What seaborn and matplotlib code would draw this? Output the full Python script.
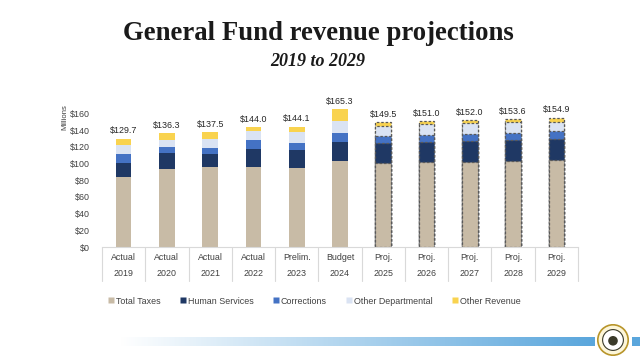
import numpy as np
import pandas as pd
import seaborn as sns
from matplotlib import pyplot as plt
from matplotlib import lines, patches
from matplotlib.colors import LinearSegmentedColormap

# values, $ millions
periods = ["Actual\n2019", "Actual\n2020", "Actual\n2021", "Actual\n2022", "Prelim.\n2023",
           "Budget\n2024", "Proj.\n2025", "Proj.\n2026", "Proj.\n2027", "Proj.\n2028", "Proj.\n2029"]
total_taxes = [84.4, 94.0, 95.6, 96.4, 94.8, 103.6, 101.2, 102.0, 102.4, 103.6, 104.4]
human_services = [16.0, 18.4, 15.6, 20.8, 21.2, 22.8, 23.6, 24.0, 24.8, 24.8, 25.2]
corrections = [10.6, 7.6, 8.0, 11.2, 9.2, 10.4, 8.4, 8.8, 8.4, 8.8, 9.2]
other_departmental = [11.0, 8.4, 10.8, 11.2, 12.8, 14.8, 12.0, 12.8, 12.8, 12.8, 11.2]
totals = [129.7, 136.3, 137.5, 144.0, 144.1, 165.3, 149.5, 151.0, 152.0, 153.6, 154.9]
n_actual = 6  # first six bars are actual/prelim/budget, rest projected

series_names = ["Total Taxes", "Human Services", "Corrections", "Other Departmental", "Other Revenue"]
series_colors = ["#c8bba6", "#1f3864", "#4472c4", "#dae3f3", "#f9d34f"]

df = pd.DataFrame({
    "period": periods,
    "Total Taxes": total_taxes,
    "Human Services": human_services,
    "Corrections": corrections,
    "Other Departmental": other_departmental,
})
df["Other Revenue"] = np.array(totals) - df[series_names[:4]].sum(axis=1)
cum = df[series_names].cumsum(axis=1)

sns.set_theme(style="white")
plt.rcParams["font.family"] = ["Liberation Sans", "DejaVu Sans"]
fs = 6.4

fig = plt.figure(figsize=(6.4, 3.6), dpi=100)
ax = fig.add_axes([102 / 640, 1 - 247 / 360, 476 / 640, 146 / 360])

# draw cumulative layers from the top down so each one covers the next
for name, color in reversed(list(zip(series_names, series_colors))):
    sns.barplot(x=df["period"], y=cum[name], color=color, width=0.36,
                saturation=1, ax=ax, zorder=2)

n = len(periods)
for i, p in enumerate(ax.patches):
    if i % n >= n_actual:
        p.set_edgecolor("#595959")
        p.set_linestyle((0, (2, 1.5)))
        p.set_linewidth(0.9)
    else:
        p.set_edgecolor("none")

for i, t in enumerate(totals):
    ax.text(i, t + 4, f"${t:.1f}", ha="center", va="bottom", fontsize=fs, color="#262626")

ax.set_ylim(0, 175)
ax.set_xlim(-0.5, n - 0.5)
ax.set_yticks(range(0, 161, 20))
ax.set_yticklabels([f"${v}" for v in range(0, 161, 20)], fontsize=fs, color="#404040")
ax.tick_params(axis="y", length=0, pad=8.5)
ax.tick_params(axis="x", length=0, pad=4, labelsize=fs, labelcolor="#404040")
for lab in ax.get_xticklabels():
    lab.set_linespacing(2.1)
ax.set_xlabel("")
ax.set_ylabel("Millions", fontsize=5.6, color="#404040")
ax.yaxis.set_label_coords(-0.07, 0.89)
for s in ["top", "right", "left"]:
    ax.spines[s].set_visible(False)
ax.spines["bottom"].set_color("#d9d9d9")
ax.spines["bottom"].set_linewidth(0.8)

# category separators under the axis
for k in range(n + 1):
    ax.add_line(lines.Line2D([k - 0.5, k - 0.5], [0, -0.23], transform=ax.get_xaxis_transform(),
                             color="#d9d9d9", lw=0.8, clip_on=False))

handles = [lines.Line2D([0], [0], marker="s", color="none", markerfacecolor=c, markeredgecolor="none",
                        markersize=3.8, label=nm) for nm, c in zip(series_names, series_colors)]
fig.legend(handles=handles, loc="center", bbox_to_anchor=(0.491, 1 - 301 / 360), ncol=5, frameon=False,
           fontsize=fs, handletextpad=0.15, columnspacing=2.1, handlelength=0.8, labelcolor="#404040")

fig.text(0.497, 1 - 33 / 360, "General Fund revenue projections", ha="center", va="center",
         fontsize=19.3, fontweight="bold", family=["Liberation Serif", "DejaVu Serif"], color="#1a1a1a")
fig.text(0.497, 1 - 62 / 360, "2019 to 2029", ha="center", va="center", fontsize=13,
         fontweight="bold", style="italic", family=["Liberation Serif", "DejaVu Serif"], color="#1a1a1a")

# blue gradient footer bar with a seal at the right
bar_ax = fig.add_axes([120 / 640, 1 - 346 / 360, 475 / 640, 9 / 360])
grad = np.linspace(0, 1, 256).reshape(1, -1)
cmap = LinearSegmentedColormap.from_list("footer", ["#ffffff", "#5aa6dc"])
bar_ax.imshow(grad, aspect="auto", cmap=cmap)
bar_ax.axis("off")
tail_ax = fig.add_axes([632 / 640, 1 - 346 / 360, 8 / 640, 9 / 360])
tail_ax.set_facecolor("#5aa6dc")
tail_ax.set_xticks([])
tail_ax.set_yticks([])
for s in tail_ax.spines.values():
    s.set_visible(False)
seal_ax = fig.add_axes([597 / 640, 1 - 356 / 360, 32 / 640, 32 / 360])
seal_ax.set_xlim(-1, 1)
seal_ax.set_ylim(-1, 1)
seal_ax.set_aspect("equal")
seal_ax.axis("off")
seal_ax.add_patch(patches.Circle((0, 0), 0.95, facecolor="#fdf6d8", edgecolor="#b8952a", lw=1.2))
seal_ax.add_patch(patches.Circle((0, 0), 0.65, facecolor="#ffffff", edgecolor="#3a3a2a", lw=0.8))
seal_ax.add_patch(patches.Circle((0, -0.05), 0.3, facecolor="#3a3a2a", edgecolor="none"))

fig.savefig("out.png", dpi=100)
